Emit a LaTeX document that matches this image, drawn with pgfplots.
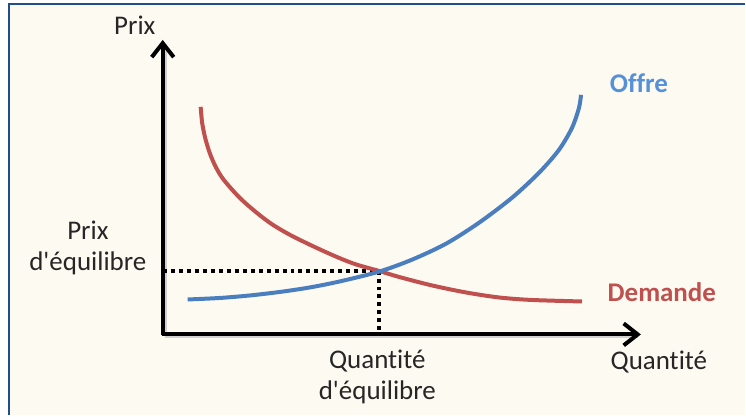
\documentclass[border=0pt]{standalone}
\usepackage{pgfplots}
\pgfplotsset{compat=1.18}
\usepackage{fontspec}
\setmainfont{Carlito}[Ligatures=NoCommon]
\usetikzlibrary{arrows.meta}
\definecolor{bgc}{HTML}{FDFAF2}
\definecolor{framec}{HTML}{1F4E8C}
\definecolor{offre}{HTML}{4A7EBE}
\definecolor{offretxt}{HTML}{5590D8}
\definecolor{demande}{HTML}{C0504D}
\definecolor{txt}{HTML}{262626}
\newcommand{\lblfont}{\fontsize{13.5}{15.5}\selectfont}
\begin{document}
\begin{tikzpicture}
\begin{axis}[
  scale only axis, width=373pt, height=208pt,
  xmin=-163, xmax=583, ymin=-81, ymax=335,
  hide axis, clip=false,
]
% background and frame
\path[fill=white] (axis cs:-163,-81) rectangle (axis cs:583,335);
\path[fill=bgc] (axis cs:-153,-81) rectangle (axis cs:583,330);
\draw[framec, line width=1.3pt] (axis cs:-154,-81) -- (axis cs:-154,331) -- (axis cs:583,331);
% shadows
\addplot[black!18, line width=2pt, xshift=1pt, yshift=-1pt] coordinates {(0,0) (0,290)};
\addplot[black!18, line width=2pt, xshift=1pt, yshift=-1pt] coordinates {(0,0) (474,0)};
% dotted guides
\addplot[black, line width=2pt, dash pattern=on 2pt off 2pt] coordinates {(0,64) (217,64)};
\addplot[black, line width=2pt, dash pattern=on 2pt off 2pt] coordinates {(217,64) (217,0)};
% axes
\addplot[black, line width=2pt, -{Straight Barb[length=7pt,width=11pt]}] coordinates {(0,-1) (0,295)};
\addplot[black, line width=2pt, -{Straight Barb[length=7pt,width=11pt]}] coordinates {(-1,0) (479,0)};
% demand
\addplot[demande, line width=2pt, smooth, tension=0.5] coordinates {
 (38,228) (39.5,212) (42.5,197) (47,182) (53,168) (61,155) (77,137) (94,122) (110,110) (127,100) (144,91.5) (160,84) (177,76.5) (194,70) (217,63.5) (237,57.5) (270,49) (304,42) (337,37) (370,34.5) (420,33)};
% supply
\addplot[offre, line width=2pt, smooth, tension=0.5] coordinates {
 (25,35) (57,36.5) (87,39) (117,42.5) (147,47) (177,53) (217,63) (250,75) (284,91) (317,112) (350,137) (377,162) (397,185) (410,207) (417,227) (419,240)};
% labels
\node[font=\lblfont, text=txt] at (axis cs:-28,310) {Prix};
\node[font=\lblfont, text=txt, align=center] at (axis cs:-75,87) {Prix\\d\textquotesingle équilibre};
\node[font=\lblfont, text=txt, align=center] at (axis cs:215,-43) {Quantité\\d\textquotesingle équilibre};
\node[font=\lblfont, text=txt] at (axis cs:497,-28) {Quantité};
\node[text=demande, font=\lblfont\bfseries] at (axis cs:500,42) {Demande};
\node[text=offretxt, font=\lblfont\bfseries] at (axis cs:477,252) {Offre};
\end{axis}
\end{tikzpicture}
\end{document}
